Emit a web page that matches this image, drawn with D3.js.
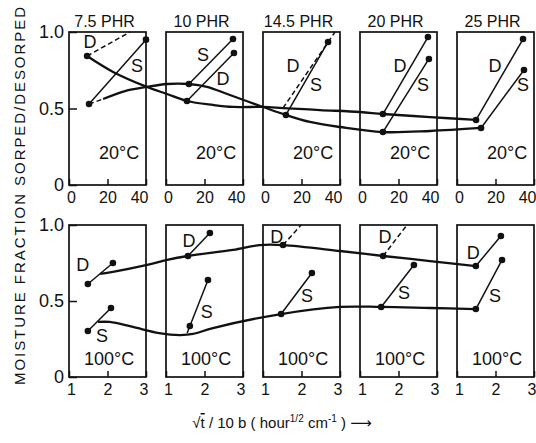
<!DOCTYPE html>
<html>
<head>
<meta charset="utf-8">
<script src="https://cdn.jsdelivr.net/npm/d3@7"></script>
<style>
    body { margin: 0; background: #fff; }
    text { font-family: "Liberation Sans", Arial, sans-serif; fill: #111; }
</style>
</head>
<body>
<div id="chart"></div>
<script>
// panel titles and axis ticks
var panels = ['7.5 PHR', '10 PHR', '14.5 PHR', '20 PHR', '25 PHR'];
var topTicks = [0, 20, 40];
var bottomTicks = [1, 2, 3];
var yTicks = [0, 0.5, 1.0];
var topTemp = '20°C';
var bottomTemp = '100°C';

// [panel, x, y] -- 20°C row, x in panel units 0..40
var topCurveD = [[0, 9.4, 0.843], [0, 22.9, 0.739], [0, 40.5, 0.641], [1, 0.5, 0.595], [1, 10.9, 0.549],
    [1, 24.4, 0.523], [1, 34.8, 0.510], [2, 0, 0.510], [2, 10.4, 0.503], [2, 29.6, 0.490],
    [3, 0, 0.477], [3, 11.9, 0.464], [3, 36.4, 0.444], [4, 9.9, 0.425]];
var topCurveS = [[0, 17.7, 0.562], [0, 29.1, 0.614], [0, 40.5, 0.641], [1, 0.5, 0.660], [1, 11.9, 0.660],
    [1, 21.3, 0.641], [1, 33.2, 0.588], [2, 0, 0.510], [2, 11.9, 0.458], [2, 24.4, 0.412],
    [2, 40, 0.379], [3, 11.9, 0.346], [3, 36.4, 0.353], [4, 12.5, 0.373]];
// [panel, x1, y1, x2, y2]
var topSolid = [[0, 10.4, 0.529, 40, 0.95], [1, 11.9, 0.660, 34.8, 0.954], [1, 10.9, 0.549, 35.3, 0.863],
    [2, 11.9, 0.458, 33.8, 0.935], [3, 11.9, 0.464, 35.3, 0.967], [3, 11.9, 0.346, 35.8, 0.824],
    [4, 9.9, 0.425, 34.3, 0.954], [4, 12.5, 0.373, 34.8, 0.752]];
var topDashed = [[0, 9.4, 0.843, 31.7, 1.0], [0, 10.4, 0.529, 17.7, 0.562], [2, 10.4, 0.503, 37.4, 1.0]];
var topDots = [[0, 9.4, 0.843], [0, 10.4, 0.529], [0, 40, 0.95], [1, 11.9, 0.660], [1, 34.8, 0.954],
    [1, 10.9, 0.549], [1, 35.3, 0.863], [2, 11.9, 0.458], [2, 33.8, 0.935], [3, 11.9, 0.464],
    [3, 35.3, 0.967], [3, 11.9, 0.346], [3, 35.8, 0.824], [4, 9.9, 0.425], [4, 34.3, 0.954],
    [4, 12.5, 0.373], [4, 34.8, 0.752]];
var topLabels = [[0, 'D', 10.9, 0.935], [0, 'S', 35.3, 0.778], [1, 'S', 19.2, 0.85], [1, 'D', 29.6, 0.693],
    [2, 'D', 15.6, 0.784], [2, 'S', 27.5, 0.654], [3, 'D', 20.8, 0.784], [3, 'S', 32.7, 0.654],
    [4, 'D', 19.7, 0.778], [4, 'S', 34.3, 0.654]];

// 100°C row, x in panel units 1..3
var bottomCurveD = [[0, 1.81, 0.678], [0, 2.14, 0.691], [0, 3.03, 0.737], [1, 1.03, 0.770], [1, 1.57, 0.796],
    [1, 2.74, 0.836], [2, 0.92, 0.868], [2, 1.52, 0.868], [2, 3.0, 0.829], [3, 1.60, 0.796],
    [3, 2.82, 0.763], [4, 1.49, 0.730]];
var bottomCurveS = [[0, 1.75, 0.362], [0, 2.06, 0.362], [0, 2.66, 0.329], [1, 0.82, 0.289], [1, 1.36, 0.276],
    [1, 1.70, 0.283], [1, 2.22, 0.322], [2, 1.47, 0.414], [2, 3.0, 0.461], [3, 1.55, 0.461],
    [3, 2.82, 0.454], [4, 1.49, 0.447]];
var bottomSolid = [[0, 1.49, 0.612, 2.14, 0.75], [0, 1.49, 0.303, 2.09, 0.454], [1, 1.57, 0.796, 2.14, 0.947],
    [1, 1.55, 0.289, 2.09, 0.638], [2, 1.47, 0.414, 2.27, 0.684], [3, 1.55, 0.461, 2.40, 0.737],
    [4, 1.49, 0.730, 2.14, 0.928], [4, 1.49, 0.447, 2.17, 0.770]];
var bottomDashed = [[2, 1.52, 0.868, 1.99, 1.0], [3, 1.60, 0.796, 2.22, 1.0]];
var bottomDots = [[0, 1.49, 0.612], [0, 2.14, 0.75], [0, 1.49, 0.303], [0, 2.09, 0.454], [1, 1.57, 0.796],
    [1, 2.14, 0.947], [1, 1.62, 0.336], [1, 2.09, 0.638], [2, 1.52, 0.868], [2, 1.47, 0.414],
    [2, 2.27, 0.684], [3, 1.60, 0.796], [3, 1.55, 0.461], [3, 2.40, 0.737], [4, 1.49, 0.730],
    [4, 2.14, 0.928], [4, 1.49, 0.447], [4, 2.17, 0.770]];
var bottomLabels = [[0, 'D', 1.36, 0.737], [0, 'S', 1.86, 0.276], [1, 'D', 1.60, 0.901], [1, 'S', 2.06, 0.428],
    [2, 'D', 1.36, 0.921], [2, 'S', 2.14, 0.533], [3, 'D', 1.65, 0.921], [3, 'S', 2.14, 0.553],
    [4, 'D', 1.42, 0.816], [4, 'S', 1.99, 0.539]];

var width = 536, height = 443;
var panelW = 77;

var svg = d3.select('#chart')
    .append('svg')
    .attr('width', width)
    .attr('height', height);

// panel left edges
var panelX = d3.scaleLinear().domain([0, 4]).range([69, 457]);

function drawRow(cfg) {
    var x = d3.scaleLinear().domain(cfg.xDomain).range([0, panelW]);
    var y = d3.scaleLinear().domain([0, 1]).range(cfg.yRange);
    var px = function(d) { return panelX(d[0]) + x(d[1]); };
    var g = svg.append('g');
    var last = cfg.ticks.length - 1;

    // panel frames + axes
    panels.forEach(function(name, i) {
        var pg = g.append('g').attr('transform', 'translate(' + panelX(i) + ',0)');
        pg.append('rect')
            .attr('x', 0).attr('y', cfg.yRange[1])
            .attr('width', panelW).attr('height', cfg.yRange[0] - cfg.yRange[1])
            .attr('fill', 'none').attr('stroke', '#111').attr('stroke-width', 1.7);

        var ax = pg.append('g')
            .attr('transform', 'translate(0,' + cfg.yRange[0] + ')')
            .call(d3.axisBottom(x).tickValues(cfg.ticks).tickSizeInner(-6).tickSizeOuter(0).tickPadding(7)
                .tickFormat(d3.format('d')));
        ax.select('.domain').remove();
        ax.selectAll('line').attr('stroke', '#111').attr('stroke-width', 1.5);
        ax.selectAll('text').attr('font-size', 16).attr('fill', '#111')
            .attr('font-family', '"Liberation Sans", Arial, sans-serif')
            .attr('text-anchor', function(d, k) { return k == last ? 'end' : 'middle'; })
            .attr('dx', function(d, k) { return k == last ? 2 : (k == 0 ? 2 : 0); });

        if (cfg.title) {
            pg.append('text')
                .attr('x', panelW / 2 - 3).attr('y', 27)
                .attr('text-anchor', 'middle').attr('font-size', 16)
                .text(name);
        }
        pg.append('text')
            .attr('x', x(cfg.tempX)).attr('y', y(cfg.tempY))
            .attr('text-anchor', 'middle').attr('font-size', 18)
            .text(cfg.temp);
    });

    // y axis on first panel
    var ay = g.append('g')
        .attr('transform', 'translate(' + panelX(0) + ',0)')
        .call(d3.axisLeft(y).tickValues(yTicks).tickSizeInner(-8).tickSizeOuter(0).tickPadding(5)
            .tickFormat(function(d) { return d == 0 ? '0' : d3.format('.1f')(d); }));
    ay.select('.domain').remove();
    ay.selectAll('line').attr('stroke', '#111').attr('stroke-width', 1.5);
    ay.selectAll('text').attr('font-size', 18).attr('fill', '#111')
        .attr('font-family', '"Liberation Sans", Arial, sans-serif');

    var line = d3.line()
        .x(px)
        .y(function(d) { return y(d[2]); })
        .curve(d3.curveCatmullRom.alpha(0.5));

    [cfg.curveD, cfg.curveS].forEach(function(c) {
        g.append('path')
            .datum(c)
            .attr('d', line)
            .attr('fill', 'none')
            .attr('stroke', '#111')
            .attr('stroke-width', 2.3);
    });

    g.selectAll('line.seg')
        .data(cfg.solid)
        .enter().append('line')
        .attr('class', 'seg')
        .attr('x1', px)
        .attr('y1', function(d) { return y(d[2]); })
        .attr('x2', function(d) { return panelX(d[0]) + x(d[3]); })
        .attr('y2', function(d) { return y(d[4]); })
        .attr('stroke', '#111').attr('stroke-width', 1.5);

    g.selectAll('line.dash')
        .data(cfg.dashed)
        .enter().append('line')
        .attr('class', 'dash')
        .attr('x1', px)
        .attr('y1', function(d) { return y(d[2]); })
        .attr('x2', function(d) { return panelX(d[0]) + x(d[3]); })
        .attr('y2', function(d) { return y(d[4]); })
        .attr('stroke', '#111').attr('stroke-width', 1.5)
        .style('stroke-dasharray', '5, 3');

    g.selectAll('circle')
        .data(cfg.dots)
        .enter().append('circle')
        .attr('cx', px)
        .attr('cy', function(d) { return y(d[2]); })
        .attr('r', 3.3)
        .attr('fill', '#111');

    g.selectAll('text.lbl')
        .data(cfg.labels)
        .enter().append('text')
        .attr('class', 'lbl')
        .attr('x', function(d) { return panelX(d[0]) + x(d[2]); })
        .attr('y', function(d) { return y(d[3]); })
        .attr('dy', '0.36em')
        .attr('text-anchor', 'middle')
        .attr('font-size', 18)
        .text(function(d) { return d[1]; });
}

drawRow({
    xDomain: [0, 40], yRange: [185, 32], ticks: topTicks, title: true,
    temp: topTemp, tempX: 26, tempY: 0.17,
    curveD: topCurveD, curveS: topCurveS, solid: topSolid, dashed: topDashed,
    dots: topDots, labels: topLabels
});

drawRow({
    xDomain: [1, 3], yRange: [377, 225], ticks: bottomTicks, title: false,
    temp: bottomTemp, tempX: 2.04, tempY: 0.08,
    curveD: bottomCurveD, curveS: bottomCurveS, solid: bottomSolid, dashed: bottomDashed,
    dots: bottomDots, labels: bottomLabels
});

// y axis title
svg.append('text')
    .attr('transform', 'translate(25,196) rotate(-90)')
    .attr('text-anchor', 'middle')
    .attr('font-size', 15)
    .attr('textLength', 378)
    .attr('lengthAdjust', 'spacing')
    .text('MOISTURE FRACTION SORPED/DESORPED');

// x axis title
var xt = svg.append('text')
    .attr('x', 282).attr('y', 428)
    .attr('text-anchor', 'middle')
    .attr('font-size', 15);
xt.append('tspan').text('√');
xt.append('tspan').attr('text-decoration', 'overline').text('t');
xt.append('tspan').text(' / 10 b ( hour');
xt.append('tspan').attr('font-size', 10).attr('dy', -6).text('1/2');
xt.append('tspan').attr('dy', 6).text(' cm');
xt.append('tspan').attr('font-size', 10).attr('dy', -6).text('-1');
xt.append('tspan').attr('dy', 6).text(' ) ');
xt.append('tspan').attr('font-family', '"DejaVu Sans", sans-serif').text('⟶');
</script>
</body>
</html>
